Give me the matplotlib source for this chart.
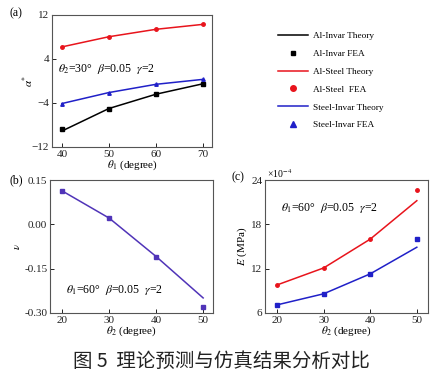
import matplotlib
matplotlib.use("Agg")
import matplotlib.pyplot as plt
from matplotlib.lines import Line2D

plt.rcParams['font.family'] = ['Liberation Serif', 'DejaVu Serif']
plt.rcParams['mathtext.fontset'] = 'stix'

# (a) alpha* vs theta1
theta1 = [40, 50, 60, 70]
ai_theory = [-9.1, -5.0, -2.4, -0.5]
ai_fea = [-8.8, -5.0, -2.4, -0.5]
as_theory = [6.2, 8.05, 9.4, 10.3]
as_fea = [6.2, 8.05, 9.4, 10.3]
si_theory = [-4.1, -2.1, -0.6, 0.3]
si_fea = [-4.1, -2.1, -0.6, 0.3]

# (b) nu vs theta2
theta2 = [20, 30, 40, 50]
nu_theory = [0.113, 0.021, -0.109, -0.249]
nu_fea = [0.113, 0.021, -0.111, -0.280]

# (c) E vs theta2 (x10^-4 MPa)
E_as_theory = [9.8, 12.1, 16.0, 21.2]
E_as_fea = [9.8, 12.1, 16.0, 22.6]
E_si_theory = [7.1, 8.6, 11.3, 14.9]
E_si_fea = [7.1, 8.6, 11.3, 16.0]

legend_labels = ['Al-Invar Theory', 'Al-Invar FEA', 'Al-Steel Theory', 'Al-Steel  FEA',
                 'Steel-Invar Theory', 'Steel-Invar FEA']
caption = '图 5  理论预测与仿真结果分析对比'

W, H = 438, 379
fig = plt.figure(figsize=(W/100, H/100), dpi=100)

def ax_px(l, t, r, b):
    return fig.add_axes([l/W, 1-b/H, (r-l)/W, (b-t)/H])

RED = '#e8141c'
BLUE = '#2020c8'
PURPLE = '#5034b8'
fs = 8

def style(ax):
    for s in ax.spines.values():
        s.set_color('#555555')
        s.set_linewidth(0.8)
    ax.tick_params(direction='in', length=3, width=0.7, labelsize=fs, colors='#222222', pad=2,
                   top=False, right=False)

# Panel a
axa = ax_px(52, 15, 212, 147)
axa.plot(theta1, ai_theory, color='black', lw=1.1)
axa.plot(theta1, ai_fea, 's', color='black', ms=2.5, ls='none')
axa.plot(theta1, as_theory, color=RED, lw=1.1)
axa.plot(theta1, as_fea, 'o', color=RED, ms=2.5, ls='none')
axa.plot(theta1, si_theory, color=BLUE, lw=1.1)
axa.plot(theta1, si_fea, '^', color=BLUE, ms=2.5, ls='none')
axa.set_xlim(37.9, 71.9)
axa.set_ylim(-12, 12)
axa.set_xticks([40, 50, 60, 70])
axa.set_yticks([-12, -4, 4, 12])
style(axa)
axa.set_xlabel(r'$\theta_1$ (degree)', fontsize=fs, labelpad=0)
axa.set_ylabel(r'$\alpha^{*}$', fontsize=fs)
axa.yaxis.set_label_coords(-0.10, 0.5)
axa.text(0.04, 0.59, r'$\theta_2$=30°  $\beta$=0.05  $\gamma$=2', transform=axa.transAxes,
         fontsize=8.5, va='center')
fig.text(10/W, 1-13/H, '(a)', fontsize=8.5, va='center')

# Legend
handles = [
    Line2D([], [], color='black', lw=1.1),
    Line2D([], [], marker='s', color='black', ls='none', ms=3.5),
    Line2D([], [], color=RED, lw=1.1),
    Line2D([], [], marker='o', color=RED, ls='none', ms=4),
    Line2D([], [], color=BLUE, lw=1.1),
    Line2D([], [], marker='^', color=BLUE, ls='none', ms=4),
]
fig.legend(handles, legend_labels, loc='upper left', bbox_to_anchor=(274/W, 1-28/H),
           frameon=False, fontsize=6.7, handlelength=3.2, labelspacing=1.0,
           handletextpad=0.6, borderaxespad=0)

# Panel b
axb = ax_px(50, 180, 213, 313)
axb.plot(theta2, nu_theory, color=PURPLE, lw=1.1)
axb.plot(theta2, nu_fea, 's', color=PURPLE, ms=2.5, ls='none')
axb.set_xlim(17.4, 52.1)
axb.set_ylim(-0.30, 0.15)
axb.set_xticks([20, 30, 40, 50])
axb.set_yticks([-0.30, -0.15, 0.00, 0.15])
axb.set_yticklabels(['-0.30', '-0.15', '0.00', '0.15'])
style(axb)
axb.set_xlabel(r'$\theta_2$ (degree)', fontsize=fs, labelpad=0)
axb.set_ylabel(r'$\nu$', fontsize=fs)
axb.yaxis.set_label_coords(-0.17, 0.5)
axb.text(0.1, 0.17, r'$\theta_1$=60°  $\beta$=0.05  $\gamma$=2', transform=axb.transAxes,
         fontsize=8.5, va='center')
fig.text(10/W, 1-180/H, '(b)', fontsize=8.5, va='center')

# Panel c
axc = ax_px(265, 180, 428, 313)
axc.plot(theta2, E_as_theory, color=RED, lw=1.1)
axc.plot(theta2, E_as_fea, 'o', color=RED, ms=2.5, ls='none')
axc.plot(theta2, E_si_theory, color=BLUE, lw=1.1)
axc.plot(theta2, E_si_fea, 's', color=BLUE, ms=2.5, ls='none')
axc.set_xlim(17.4, 52.4)
axc.set_ylim(6, 24)
axc.set_xticks([20, 30, 40, 50])
axc.set_yticks([6, 12, 18, 24])
style(axc)
axc.set_xlabel(r'$\theta_2$ (degree)', fontsize=fs, labelpad=0)
axc.set_ylabel(r'$E$ (MPa)', fontsize=fs)
axc.yaxis.set_label_coords(-0.10, 0.5)
axc.text(0.1, 0.79, r'$\theta_1$=60°  $\beta$=0.05  $\gamma$=2', transform=axc.transAxes,
         fontsize=8.5, va='center')
fig.text(267/W, 1-174/H, r'×10$^{-4}$', fontsize=7, va='center')
fig.text(231/W, 1-177/H, '(c)', fontsize=8.5, va='center')

# Caption
fig.text(221/W, 1-361/H, caption, ha='center', va='center',
         fontsize=14, family=['Noto Sans CJK SC', 'DejaVu Sans'], color='#222222')

fig.savefig('out.png', dpi=100)
